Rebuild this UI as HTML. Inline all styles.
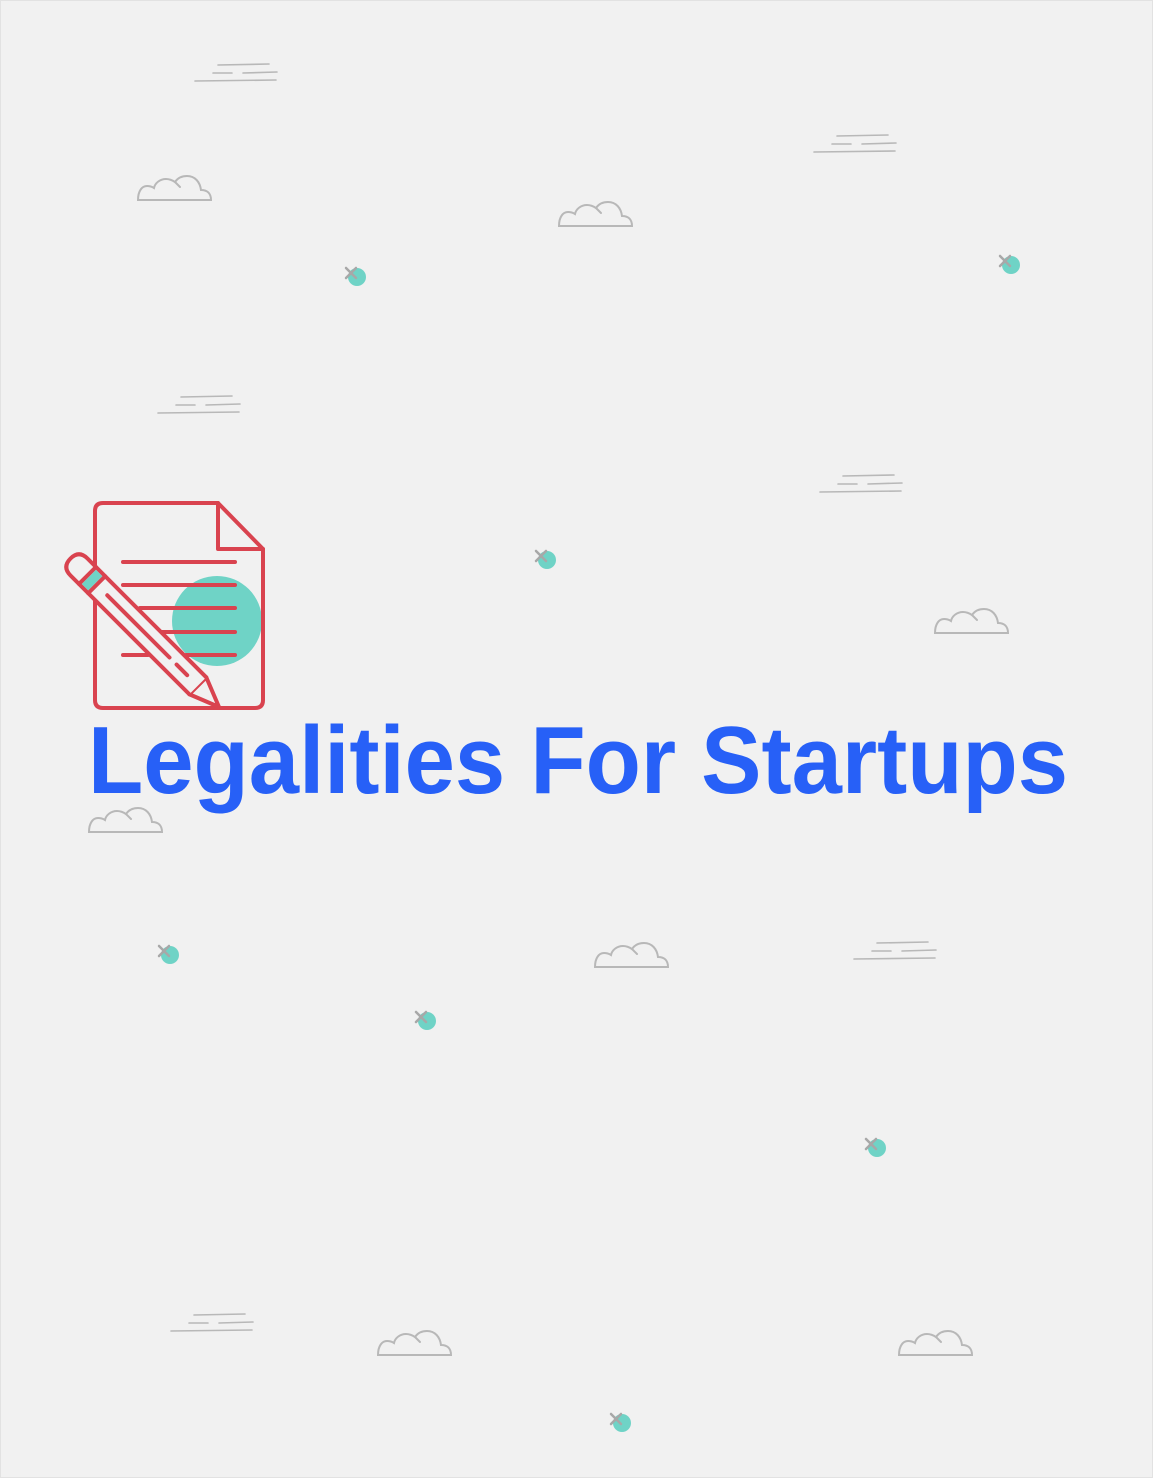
<!DOCTYPE html>
<html><head><meta charset="utf-8"><style>
html,body{margin:0;padding:0;background:#f1f1f1;}
svg{display:block;}
</style></head><body>
<svg width="1153" height="1478" viewBox="0 0 1153 1478" xmlns="http://www.w3.org/2000/svg">
<defs>
<g id="lines" fill="none" stroke="#b8b8b8" stroke-width="1.6" stroke-linecap="round">
<line x1="23" y1="1" x2="74" y2="0"/>
<line x1="18" y1="9" x2="37" y2="9"/>
<line x1="48" y1="9" x2="82" y2="8"/>
<line x1="0" y1="17" x2="81" y2="16"/>
</g>
<g id="cloud" fill="none" stroke="#b8b8b8" stroke-width="2" stroke-linecap="round">
<path d="M1 0 L74 0 C74 -7 70 -10 64 -10 C63 -18 58 -24 50 -24 C44 -24 40 -21 38 -18 C35 -20 31 -21 29 -21 C23 -21 18 -17 17 -12 C14 -14 12 -14 10 -14 C5 -14 1 -9 1 0 Z"/>
<path d="M38 -18 C40 -16 42 -14 43 -13"/>
</g>
<g id="dot">
<circle cx="0" cy="0" r="9" fill="#6fd3c6"/>
<g stroke="#a8a8a8" stroke-width="2.5" stroke-linecap="round"><line x1="-11" y1="-9" x2="-1" y2="1"/><line x1="-1" y1="-9" x2="-11" y2="1"/></g>
</g>
</defs>
<rect x="0.5" y="0.5" width="1152" height="1477" fill="#f1f1f1" stroke="#e2e2e2"/>

<use href="#lines" x="195" y="64"/>
<use href="#lines" x="814" y="135"/>
<use href="#lines" x="158" y="396"/>
<use href="#lines" x="820" y="475"/>
<use href="#lines" x="854" y="942"/>
<use href="#lines" x="171" y="1314"/>

<use href="#cloud" x="137" y="200"/>
<use href="#cloud" x="558" y="226"/>
<use href="#cloud" x="934" y="633"/>
<use href="#cloud" x="88" y="832"/>
<use href="#cloud" x="594" y="967"/>
<use href="#cloud" x="377" y="1355"/>
<use href="#cloud" x="898" y="1355"/>

<use href="#dot" x="357" y="277"/>
<use href="#dot" x="1011" y="265"/>
<use href="#dot" x="547" y="560"/>
<use href="#dot" x="170" y="955"/>
<use href="#dot" x="427" y="1021"/>
<use href="#dot" x="877" y="1148"/>
<use href="#dot" x="622" y="1423"/>

<!-- icon -->
<circle cx="217" cy="621" r="45" fill="#6fd3c6"/>
<circle cx="85" cy="573" r="11" fill="#6fd3c6"/>
<g fill="none" stroke="#d9434f" stroke-width="4" stroke-linecap="round" stroke-linejoin="round">
<path d="M103 503 L218 503 L263 549 L263 700 Q263 708 255 708 L103 708 Q95 708 95 700 L95 511 Q95 503 103 503 Z"/>
<path d="M218 503 L218 549 L263 549"/>
<line x1="123" y1="562" x2="235" y2="562"/>
<line x1="123" y1="585" x2="235" y2="585"/>
<line x1="140" y1="608" x2="235" y2="608"/>
<line x1="160" y1="632" x2="235" y2="632"/>
<line x1="123" y1="655" x2="148" y2="655"/>
<line x1="186" y1="655" x2="235" y2="655"/>
</g>
<g transform="translate(219,707) rotate(135)">
<g fill="#f1f1f1" stroke="#d9434f" stroke-width="4" stroke-linejoin="round" stroke-linecap="round">
<path d="M0 0 L-12 30 L12 30 Z"/>
<path d="M-12 30 L-12 198 Q-12 210 0 210 Q12 210 12 198 L12 30"/>
<path d="M-12 173 L12 173 M-12 186 L12 186"/>
<line x1="0" y1="45" x2="0" y2="60"/>
<line x1="0" y1="70" x2="0" y2="158"/>
</g>
<rect x="-10" y="175" width="20" height="9" fill="#6fd3c6"/>
</g>

<text x="88" y="793" font-family="Liberation Sans, sans-serif" font-weight="bold" font-size="96" fill="#2760f7" textLength="980" lengthAdjust="spacingAndGlyphs">Legalities For Startups</text>
</svg>
</body></html>
